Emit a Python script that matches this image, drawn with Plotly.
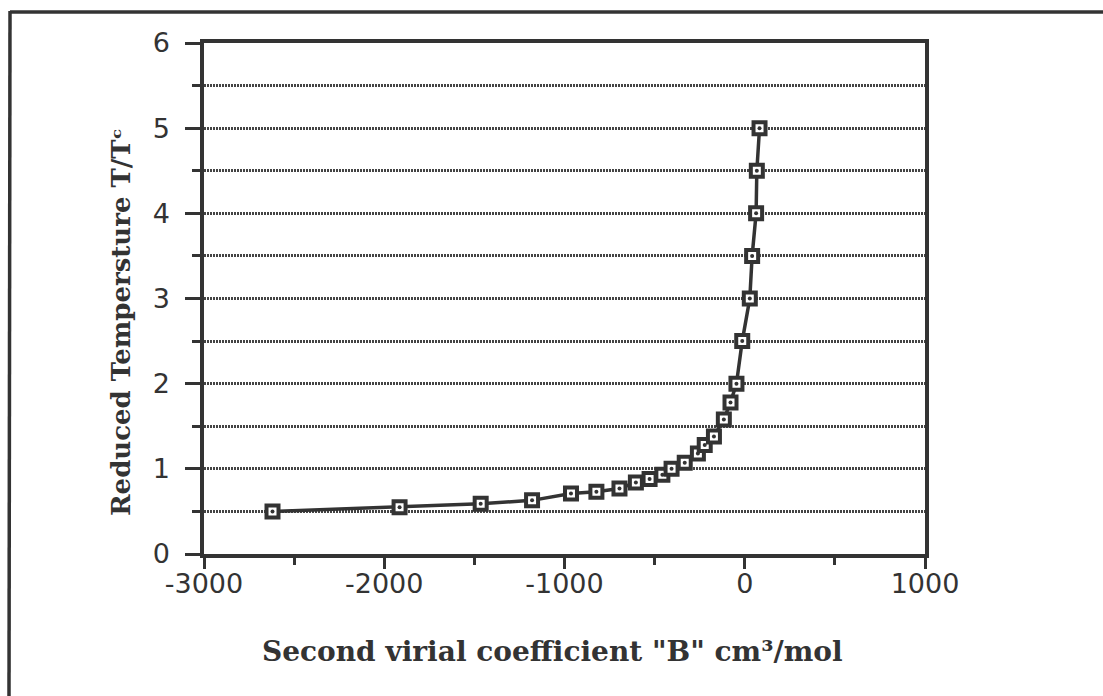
import plotly.graph_objects as go

# ---- data ----
B_values = [-2620, -1915, -1465, -1180, -964, -823, -695, -604, -528, -457, -406,
            -333, -260, -222, -171, -116, -79, -46, -14, 28, 41, 63, 67, 82]
Tr_values = [0.5, 0.55, 0.59, 0.63, 0.71, 0.73, 0.77, 0.84, 0.88, 0.93, 1.0,
             1.07, 1.18, 1.28, 1.38, 1.58, 1.78, 2.0, 2.5, 3.0, 3.5, 4.0, 4.5, 5.0]

x_tickvals = [-3000, -2000, -1000, 0, 1000]
x_ticktext = ["-3000", "-2000", "-1000", "0", "1000"]
x_minorvals = [-2500, -1500, -500, 500]
y_tickvals = [0, 1, 2, 3, 4, 5, 6]
y_ticktext = ["0", "1", "2", "3", "4", "5", "6"]
y_minorvals = [0.5, 1.5, 2.5, 3.5, 4.5, 5.5]

x_title = 'Second virial coefficient "B" cm\u00b3/mol'
y_title = "Reduced Tempersture T/T\u1d9c"

# ---- layout geometry (pixels) ----
W, H = 1103, 696
L, R, T, Bt = 204, 925, 43, 554
INK = "#333333"


def px(xp):
    return (xp - L) / (R - L)


def py(yp):
    return (Bt - yp) / (Bt - T)


fig = go.Figure()
fig.add_trace(go.Scatter(
    x=B_values, y=Tr_values, mode="lines+markers",
    line=dict(color=INK, width=3.5),
    marker=dict(symbol="square", size=12, color="white",
                line=dict(color=INK, width=4)),
    showlegend=False, hoverinfo="x+y"))
fig.add_trace(go.Scatter(
    x=B_values, y=Tr_values, mode="markers",
    marker=dict(symbol="circle", size=4, color=INK),
    showlegend=False, hoverinfo="skip"))

tickfont = dict(family="DejaVu Sans", size=27, color=INK)
gridkw = dict(gridcolor="#444444", gridwidth=2.5, griddash="2px,1px")

fig.update_xaxes(
    range=[-3000, 1000], tickmode="array", tickvals=x_tickvals, ticktext=x_ticktext,
    ticks="outside", ticklen=11, tickwidth=3, tickcolor=INK,
    showgrid=False, zeroline=False,
    showline=True, linewidth=3.5, linecolor=INK, mirror=True,
    tickfont=tickfont, ticklabelstandoff=-8,
    minor=dict(tickmode="array", tickvals=x_minorvals, ticks="outside",
               ticklen=7, tickwidth=3, tickcolor=INK, showgrid=False),
)
fig.update_yaxes(
    range=[0, 6], tickmode="array", tickvals=y_tickvals, ticktext=y_ticktext,
    ticks="outside", ticklen=15, tickwidth=3, tickcolor=INK,
    showgrid=True, zeroline=False, **gridkw,
    showline=True, linewidth=3.5, linecolor=INK, mirror=True,
    tickfont=tickfont, ticklabelstandoff=10,
    minor=dict(tickmode="array", tickvals=y_minorvals, ticks="outside",
               ticklen=8, tickwidth=3, tickcolor=INK, showgrid=True, **gridkw),
)

serif = dict(family="DejaVu Serif", color=INK, weight="bold")
annotations = [
    dict(text=x_title, x=px(552), y=py(652), xref="paper", yref="paper",
         xanchor="center", yanchor="middle", showarrow=False,
         font=dict(size=28, **serif)),
    dict(text=y_title, x=px(121), y=py(322), xref="paper", yref="paper",
         xanchor="center", yanchor="middle", textangle=-90, showarrow=False,
         font=dict(size=26, **serif)),
]

shapes = [
    dict(type="line", xref="paper", yref="paper", x0=px(10), y0=py(12),
         x1=px(1110), y1=py(12), line=dict(color=INK, width=3.5)),
    dict(type="line", xref="paper", yref="paper", x0=px(10), y0=py(11),
         x1=px(9), y1=py(700), line=dict(color=INK, width=3.5)),
]

fig.update_layout(
    width=W, height=H, autosize=False,
    margin=dict(l=L, r=W - R, t=T, b=H - Bt, pad=0),
    paper_bgcolor="white", plot_bgcolor="white",
    annotations=annotations, shapes=shapes,
    showlegend=False,
)

fig.write_html("out.html")
